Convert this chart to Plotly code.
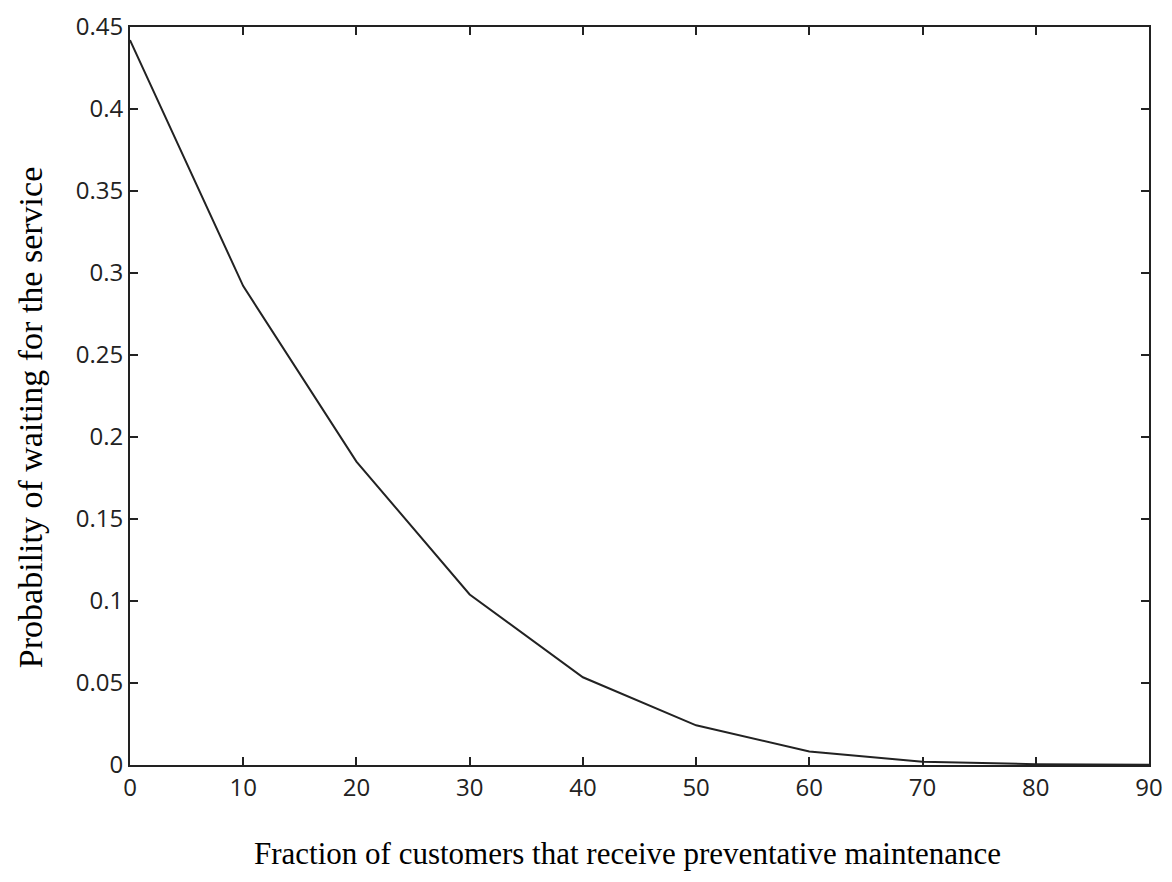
import plotly.graph_objects as go

fraction = [0, 10, 20, 30, 40, 50, 60, 70, 80, 90]
prob_wait = [0.442, 0.292, 0.185, 0.104, 0.0535, 0.0242, 0.0082, 0.0020, 0.0005, 0.0001]

x_ticks = [0, 10, 20, 30, 40, 50, 60, 70, 80, 90]
y_ticks = [0, 0.05, 0.1, 0.15, 0.2, 0.25, 0.3, 0.35, 0.4, 0.45]
y_tick_text = ["0", "0.05", "0.1", "0.15", "0.2", "0.25", "0.3", "0.35", "0.4", "0.45"]

x_title = "Fraction of customers that receive preventative maintenance"
y_title = "Probability of waiting for the service"

fig = go.Figure()
fig.add_trace(go.Scatter(x=fraction, y=prob_wait, mode="lines",
                         line=dict(color="#222222", width=2), showlegend=False))

axis_common = dict(showline=True, linecolor="#222222", linewidth=2, mirror="ticks",
                   ticks="inside", ticklen=8, tickwidth=1.5, tickcolor="#222222",
                   showgrid=False, zeroline=False, automargin=False,
                   ticklabeloverflow="allow",
                   tickfont=dict(family="Open Sans, Liberation Sans, sans-serif", size=24, color="#222222"))

fig.update_xaxes(range=[0, 90], tickvals=x_ticks, **axis_common)
fig.update_yaxes(range=[0, 0.45], tickvals=y_ticks, ticktext=y_tick_text, **axis_common)

serif = "Liberation Serif, Times New Roman, serif"
fig.add_annotation(text=x_title, xref="paper", yref="paper", x=0.488, y=0,
                   xanchor="center", yanchor="middle", yshift=-88, showarrow=False,
                   font=dict(family=serif, size=31, color="black"))
fig.add_annotation(text=y_title, xref="paper", yref="paper", x=0, y=0.47,
                   xanchor="center", yanchor="middle", xshift=-100, textangle=-90, showarrow=False,
                   font=dict(family=serif, size=34, color="black"))

fig.update_layout(width=1172, height=882, plot_bgcolor="white", paper_bgcolor="white",
                  margin=dict(l=122, r=31, t=19, b=125))

fig.write_html("out.html")
